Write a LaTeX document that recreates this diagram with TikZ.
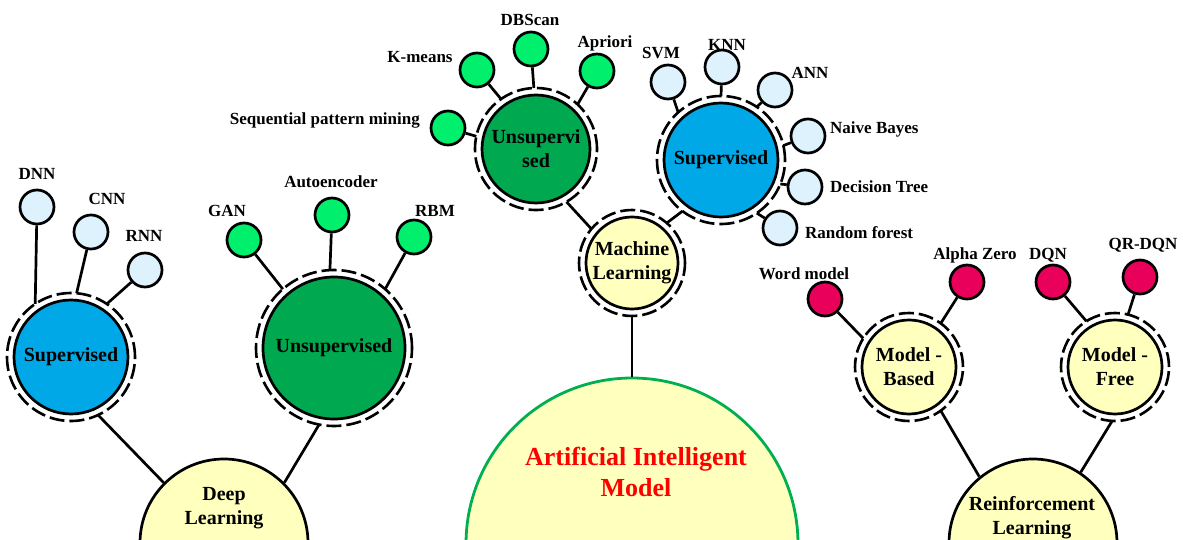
\documentclass[tikz,border=0pt]{standalone}
\usepackage{fontspec}
\setmainfont{Liberation Serif}

\definecolor{leafblue}{RGB}{221,242,252}
\definecolor{midblue}{RGB}{0,168,232}
\definecolor{darkgreen}{RGB}{0,168,80}
\definecolor{leafgreen}{RGB}{0,240,110}
\definecolor{paleyellow}{RGB}{255,255,190}
\definecolor{leafred}{RGB}{232,0,90}
\definecolor{rimgreen}{RGB}{0,176,80}
\definecolor{titlered}{RGB}{255,0,0}

\tikzset{
  hub/.style={circle, draw=black, line width=2.7pt, inner sep=0pt, align=center,
    font=\fontsize{20}{24}\selectfont\bfseries},
  ringed/.style={hub, outer sep=7pt},
  leaf/.style={circle, draw=black, line width=2.7pt, inner sep=0pt, minimum size=34pt},
  ring/.style={draw=black, line width=2.6pt, dash pattern=on 15pt off 5pt},
  tag/.style={font=\fontsize{17}{20}\selectfont\bfseries, inner sep=0pt, anchor=base},
  hubtext/.style={font=\fontsize{20}{24}\selectfont\bfseries, align=center, inner sep=0pt},
  link/.style={draw=black, line width=2.7pt},
}

\begin{document}
\begin{tikzpicture}[x=1pt, y=-1pt]
\useasboundingbox (0,0) rectangle (1183,540);
\clip (0,0) rectangle (1183,540);

% ---------- root and first-level hubs ----------
\node[circle, draw=rimgreen, line width=2.8pt, fill=paleyellow, minimum size=332pt] (ai) at (632,544) {};
\node[hubtext, text=titlered, font=\fontsize{26}{31}\selectfont\bfseries] (aitext) at (636,472) {Artificial Intelligent\\Model};

\node[hub, fill=paleyellow, minimum size=168pt] (dl) at (224,543) {};
\node[hubtext] (dltext) at (224,508) {Deep\\Learning};

\node[hub, fill=paleyellow, minimum size=168pt] (rl) at (1033,543) {};
\node[hubtext] (rltext) at (1032,518) {Reinforcement\\Learning};

\node[ringed, fill=paleyellow, minimum size=92pt] (ml) at (632,263) {Machine\\Learning};

% ---------- second-level hubs ----------
\node[ringed, fill=midblue, minimum size=114pt] (sup1) at (71,357) {Supervised};
\node[ringed, fill=darkgreen, minimum size=142pt] (uns1) at (334,348) {Unsupervised};
\node[ringed, fill=darkgreen, minimum size=108pt] (uns2) at (536,149) {Unsupervi\\sed};
\node[ringed, fill=midblue, minimum size=114pt] (sup2) at (721,160) {Supervised};
\node[ringed, fill=paleyellow, minimum size=94pt] (mb) at (909,367) {Model -\\Based};
\node[ringed, fill=paleyellow, minimum size=94pt] (mf) at (1115,367) {Model -\\Free};

% dashed rims around the hubs
\draw[ring] (ml.center) circle[radius=53pt];
\draw[ring] (sup1.center) circle[radius=64pt];
\draw[ring] (uns1.center) circle[radius=78pt];
\draw[ring] (uns2.center) circle[radius=61pt];
\draw[ring] (sup2.center) circle[radius=64pt];
\draw[ring] (mb.center) circle[radius=54pt];
\draw[ring] (mf.center) circle[radius=54pt];

% ---------- leaves ----------
\node[leaf, fill=leafblue] (dnn) at (37,207) {};
\node[leaf, fill=leafblue] (cnn) at (91,232) {};
\node[leaf, fill=leafblue] (rnn) at (145,270) {};
\node[leaf, fill=leafgreen] (gan) at (244,240) {};
\node[leaf, fill=leafgreen] (ae) at (332,215) {};
\node[leaf, fill=leafgreen] (rbm) at (414,237) {};

\node[leaf, fill=leafgreen] (km) at (477,70) {};
\node[leaf, fill=leafgreen] (dbs) at (531,49) {};
\node[leaf, fill=leafgreen] (apr) at (597,71) {};
\node[leaf, fill=leafgreen] (spm) at (448,128) {};

\node[leaf, fill=leafblue] (svm) at (668,82) {};
\node[leaf, fill=leafblue] (knn) at (722,67) {};
\node[leaf, fill=leafblue] (ann) at (775,90) {};
\node[leaf, fill=leafblue] (nb) at (808,136) {};
\node[leaf, fill=leafblue] (dt) at (805,187) {};
\node[leaf, fill=leafblue] (rf) at (780,228) {};

\node[leaf, fill=leafred] (wm) at (825,299) {};
\node[leaf, fill=leafred] (az) at (967,282) {};
\node[leaf, fill=leafred] (dqn) at (1053,282) {};
\node[leaf, fill=leafred] (qr) at (1140,277) {};

% ---------- leaf captions ----------
\node[tag] (tdnn) at (37,180) {DNN};
\node[tag] (tcnn) at (107,205) {CNN};
\node[tag] (trnn) at (144,241) {RNN};
\node[tag] (tgan) at (227,217) {GAN};
\node[tag] (tae) at (331,188) {Autoencoder};
\node[tag] (trbm) at (435,217) {RBM};

\node[tag] (tkm) at (420,63) {K-means};
\node[tag] (tdbs) at (530,26) {DBScan};
\node[tag] (tapr) at (605,48) {Apriori};
\node[tag, anchor=base east] (tspm) at (420,125) {Sequential pattern mining};

\node[tag] (tsvm) at (661,59) {SVM};
\node[tag] (tknn) at (727,51) {KNN};
\node[tag] (tann) at (810,79) {ANN};
\node[tag, anchor=base west] (tnb) at (830,134) {Naive Bayes};
\node[tag, anchor=base west] (tdt) at (830,193) {Decision Tree};
\node[tag, anchor=base west] (trf) at (805,238) {Random forest};

\node[tag] (twm) at (804,279) {Word model};
\node[tag] (taz) at (975,259) {Alpha Zero};
\node[tag] (tdqn) at (1048,259) {DQN};
\node[tag] (tqr) at (1143,249) {QR-DQN};

% ---------- connectors ----------
\draw[link] (ml.270) -- (ai.90);
\draw[link] (uns2.300) -- (ml.140);
\draw[link] (sup2.233) -- (ml.49);

\draw[link] (sup1.295) -- (dl.135);
\draw[link] (uns1.259) -- (dl.45);
\draw[link] (mb.306) -- (rl.129);
\draw[link] (mf.267) -- (rl.56);

\draw[link] (dnn) -- (sup1.124);
\draw[link] (cnn) -- (sup1.85);
\draw[link] (rnn) -- (sup1.56);
\draw[link] (gan) -- (uns1.131);
\draw[link] (ae) -- (uns1.93);
\draw[link] (rbm) -- (uns1.49);

\draw[link] (km) -- (uns2.125);
\draw[link] (dbs) -- (uns2.92);
\draw[link] (apr) -- (uns2.47);
\draw[link] (spm) -- (uns2.168);

\draw[link] (svm) -- (sup2.132);
\draw[link] (knn) -- (sup2.90);
\draw[link] (ann) -- (sup2.56);
\draw[link] (nb) -- (sup2.13);
\draw[link] (dt) -- (sup2.338);
\draw[link] (rf) -- (sup2.304);

\draw[link] (wm) -- (mb.148);
\draw[link] (az) -- (mb.54);
\draw[link] (dqn) -- (mf.122);
\draw[link] (qr) -- (mf.76);
\end{tikzpicture}
\end{document}
